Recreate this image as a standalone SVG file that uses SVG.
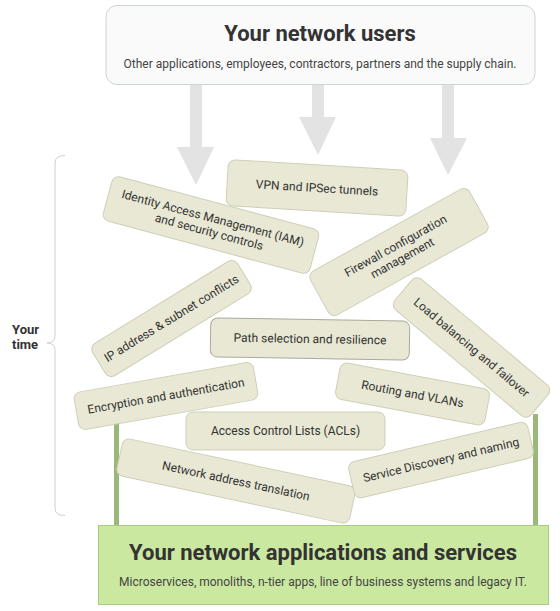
<svg xmlns="http://www.w3.org/2000/svg" width="560" height="611" viewBox="0 0 560 611">
<style>
  text { font-family: Roboto, "Noto Sans", "Liberation Sans", sans-serif; fill: #333; }
  .card rect { fill: #e8e8d4; stroke: #cfcfb8; stroke-width: 1; }
  .card text { font-size: 12px; text-anchor: middle; }
  .title { font-size: 22px; font-weight: bold; text-anchor: middle; fill: #333; }
  .sub { font-size: 12px; text-anchor: middle; fill: #444; }
  .arrow { fill: #e3e3e3; }
  .post { fill: #9ab878; }
</style>
<rect width="560" height="611" fill="#fff"/>

<g id="connectors">
  <polygon class="arrow" points="190,85 202,85 202,147 214,147 196,185 177,147 190,147"/>
  <polygon class="arrow" points="312,85 324,85 324,117 336,117 318,155 299,117 312,117"/>
  <polygon class="arrow" points="442,85 454,85 454,138 467,138 448,175 430,138 442,138"/>
  <rect class="post" x="114" y="420" width="5" height="106"/>
  <rect class="post" x="533" y="414" width="5" height="112"/>
</g>

<g id="users">
  <rect x="106" y="5.5" width="429" height="79" rx="11" fill="#fafafa" stroke="#c9d6d6" stroke-width="1"/>
  <text class="title" x="320" y="41">Your network users</text>
  <text class="sub" x="320" y="68">Other applications, employees, contractors, partners and the supply chain.</text>
</g>

<g id="your-time">
  <path d="M65,155.5 Q55,155.5 55,163 L55,336 Q55,343 47,343 Q55,343 55,350 L55,508 Q55,515.5 65,515.5" fill="none" stroke="#cfcfcf" stroke-width="1"/>
  <text x="12" y="334" font-size="13" font-weight="bold" fill="#222">Your</text>
  <text x="12" y="349" font-size="13" font-weight="bold" fill="#222">time</text>
</g>

<g id="vpn" class="card" transform="translate(317,188) rotate(3.5)">
  <rect x="-90" y="-23" width="180" height="46" rx="7"/>
  <text x="0" y="4">VPN and IPSec tunnels</text>
</g>

<g id="iam" class="card" transform="translate(211,225) rotate(15)">
  <rect x="-107" y="-23" width="214" height="46" rx="7"/>
  <text x="0" y="-3">Identity Access Management (IAM)</text>
  <text x="0" y="11">and security controls</text>
</g>

<g id="firewall" class="card" transform="translate(399,252) rotate(-29)">
  <rect x="-91" y="-25" width="182" height="50" rx="7"/>
  <text x="0" y="-3">Firewall configuration</text>
  <text x="0" y="11">management</text>
</g>

<g id="ip" class="card" transform="translate(171.5,318.5) rotate(-31.5)">
  <rect x="-85" y="-19" width="170" height="38" rx="7"/>
  <text x="0" y="4">IP address &amp; subnet conflicts</text>
</g>

<g id="path" class="card" transform="translate(310,339) rotate(1)">
  <rect x="-99.5" y="-19.5" width="199" height="39" rx="7" style="stroke:#a9a99c"/>
  <text x="0" y="4">Path selection and resilience</text>
</g>

<g id="lb" class="card" transform="translate(471.5,347.5) rotate(40)">
  <rect x="-89" y="-20" width="178" height="40" rx="7"/>
  <text x="0" y="4">Load balancing and failover</text>
</g>

<g id="encryption" class="card" transform="translate(166,396) rotate(-10)">
  <rect x="-91" y="-19" width="182" height="38" rx="7"/>
  <text x="0" y="4">Encryption and authentication</text>
</g>

<g id="routing" class="card" transform="translate(412.5,394) rotate(10.5)">
  <rect x="-76" y="-18.5" width="152" height="37" rx="7"/>
  <text x="0" y="4">Routing and VLANs</text>
</g>

<g id="acl" class="card" transform="translate(285.5,431)">
  <rect x="-99.5" y="-19" width="199" height="38" rx="7"/>
  <text x="0" y="4">Access Control Lists (ACLs)</text>
</g>

<g id="nat" class="card" transform="translate(236,481) rotate(12)">
  <rect x="-119" y="-19" width="238" height="38" rx="7"/>
  <text x="0" y="4">Network address translation</text>
</g>

<g id="sd" class="card" transform="translate(441,460) rotate(-13.3)">
  <rect x="-92" y="-18.5" width="184" height="37" rx="7"/>
  <text x="0" y="4">Service Discovery and naming</text>
</g>

<g id="apps">
  <rect x="98.5" y="525.5" width="450" height="79" fill="#cbe8a0" stroke="#a9cc84" stroke-width="1"/>
  <text class="title" x="323" y="560">Your network applications and services</text>
  <text class="sub" x="323" y="586">Microservices, monoliths, n-tier apps, line of business systems and legacy IT.</text>
</g>
</svg>
